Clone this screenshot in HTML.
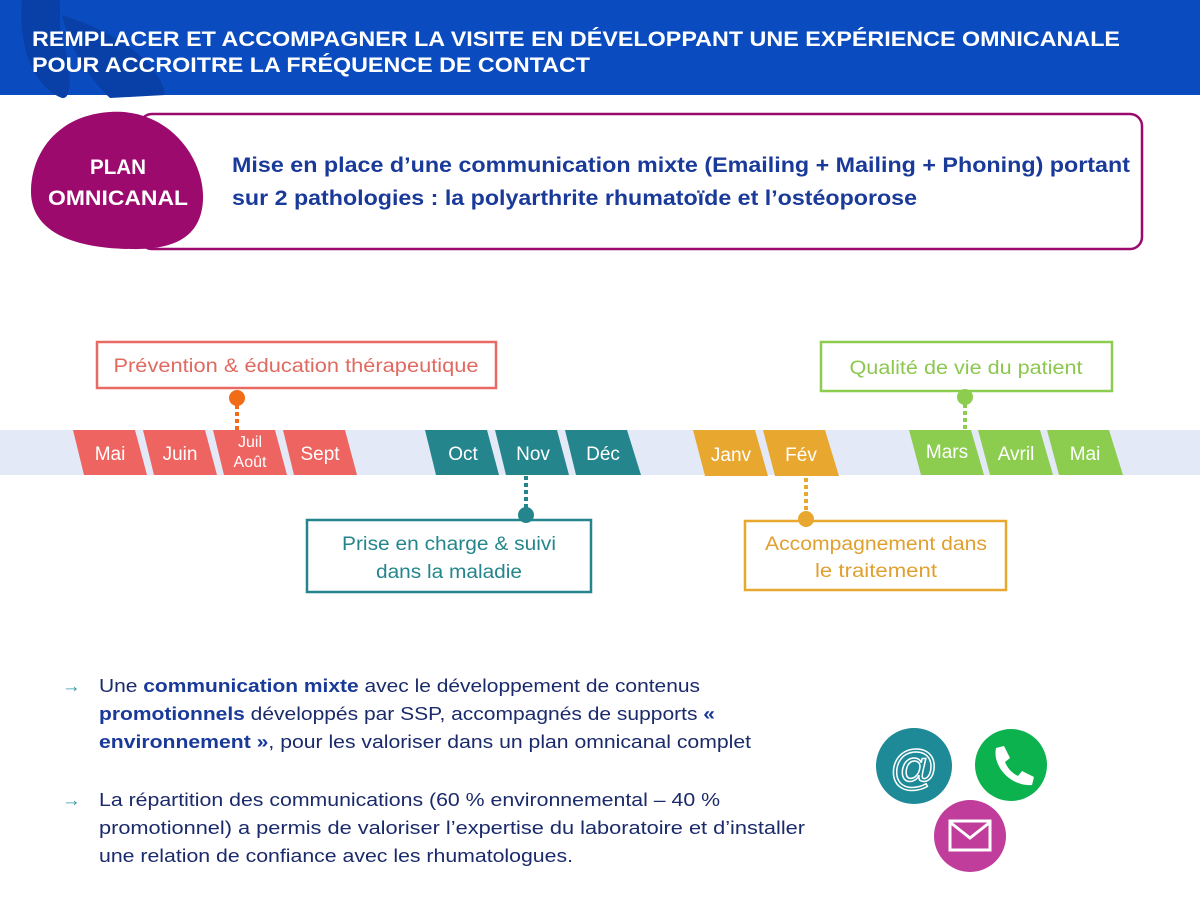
<!DOCTYPE html>
<html><head><meta charset="utf-8"><style>
body{margin:0;width:1200px;height:900px;overflow:hidden;background:#fff;font-family:"Liberation Sans",sans-serif}
svg{position:absolute;left:0;top:0}
.t{font-family:"Liberation Sans",sans-serif}
</style></head><body>
<svg width="1200" height="900" viewBox="0 0 1200 900">
<rect x="0" y="0" width="1200" height="95" fill="#0a4cc0"/>
<path d="M22,0 C18,40 30,85 62,98 C75,100 70,60 60,30 L60,0 Z" fill="#0940a8"/>
<path d="M62,15 C110,30 160,60 165,95 L110,98 C90,80 70,50 62,15 Z" fill="#0940a8"/>
<text x="32" y="46" fill="#fff" font-size="21" font-weight="bold" class="t" textLength="1088" lengthAdjust="spacingAndGlyphs">REMPLACER ET ACCOMPAGNER LA VISITE EN DÉVELOPPANT UNE EXPÉRIENCE OMNICANALE</text>
<text x="32" y="72" fill="#fff" font-size="21" font-weight="bold" class="t" textLength="558" lengthAdjust="spacingAndGlyphs">POUR ACCROITRE LA FRÉQUENCE DE CONTACT</text>

<rect x="140" y="114" width="1002" height="135" rx="12" fill="#fff" stroke="#9c0a6e" stroke-width="2.5"/>
<path d="M110,112 C170,108 205,160 203,200 C201,240 170,250 130,249 C70,248 30,230 31,190 C32,150 60,115 110,112 Z" fill="#9c0a6e"/>
<text x="118" y="174" fill="#fff" font-size="21" font-weight="bold" text-anchor="middle" class="t" textLength="56" lengthAdjust="spacingAndGlyphs">PLAN</text>
<text x="118" y="205" fill="#fff" font-size="21" font-weight="bold" text-anchor="middle" class="t" textLength="140" lengthAdjust="spacingAndGlyphs">OMNICANAL</text>
<text x="232" y="172" fill="#1a3a9a" font-size="21" font-weight="bold" class="t" textLength="898" lengthAdjust="spacingAndGlyphs">Mise en place d’une communication mixte (Emailing + Mailing + Phoning) portant</text>
<text x="232" y="205" fill="#1a3a9a" font-size="21" font-weight="bold" class="t" textLength="685" lengthAdjust="spacingAndGlyphs">sur 2 pathologies : la polyarthrite rhumatoïde et l’ostéoporose</text>

<rect x="0" y="430" width="1200" height="45" fill="#e4e9f8"/>
<g font-size="19" fill="#fff" text-anchor="middle" class="t">
<g fill="#ee6461">
<polygon points="73,430 135,430 147,475 84,475"/>
<polygon points="143,430 205,430 217,475 154,475"/>
<polygon points="213,430 275,430 287,475 224,475"/>
<polygon points="283,430 345,430 357,475 294,475"/>
</g>
<g fill="#24868c">
<polygon points="425,430 487,430 499,475 436,475"/>
<polygon points="495,430 557,430 569,475 506,475"/>
<polygon points="565,430 627,430 641,475 576,475"/>
</g>
<g fill="#e8a830">
<polygon points="693,430 755,430 768,476 705,476"/>
<polygon points="763,430 825,430 839,476 775,476"/>
</g>
<g fill="#8ccd4f">
<polygon points="909,430 971,430 984,475 921,475"/>
<polygon points="978,430 1040,430 1053,475 990,475"/>
<polygon points="1047,430 1109,430 1123,475 1059,475"/>
</g>
<text x="110" y="460">Mai</text>
<text x="180" y="460">Juin</text>
<text x="250" y="447" font-size="16">Juil</text>
<text x="250" y="467" font-size="16">Août</text>
<text x="320" y="460">Sept</text>
<text x="463" y="460">Oct</text>
<text x="533" y="460">Nov</text>
<text x="603" y="460">Déc</text>
<text x="731" y="461">Janv</text>
<text x="801" y="461">Fév</text>
<text x="947" y="458">Mars</text>
<text x="1016" y="460">Avril</text>
<text x="1085" y="460">Mai</text>
</g>

<g class="t" font-size="19" text-anchor="middle">
<rect x="97" y="342" width="399" height="46" fill="#fff" stroke="#e86a63" stroke-width="2.5"/>
<text x="296" y="372" fill="#e06a60" textLength="365" lengthAdjust="spacingAndGlyphs">Prévention &amp; éducation thérapeutique</text>
<line x1="237" y1="405" x2="237" y2="430" stroke="#f26b16" stroke-width="4" stroke-dasharray="4,3"/>
<circle cx="237" cy="398" r="8" fill="#f26b16"/>

<rect x="307" y="520" width="284" height="72" fill="#fff" stroke="#24868c" stroke-width="2.5"/>
<text x="449" y="550" fill="#24868c" textLength="214" lengthAdjust="spacingAndGlyphs">Prise en charge &amp; suivi</text>
<text x="449" y="578" fill="#24868c" textLength="146" lengthAdjust="spacingAndGlyphs">dans la maladie</text>
<line x1="526" y1="476" x2="526" y2="510" stroke="#24868c" stroke-width="4" stroke-dasharray="4,3"/>
<circle cx="526" cy="515" r="8" fill="#24868c"/>

<rect x="745" y="521" width="261" height="69" fill="#fff" stroke="#e8a830" stroke-width="2.5"/>
<text x="876" y="550" fill="#e0a030" textLength="222" lengthAdjust="spacingAndGlyphs">Accompagnement dans</text>
<text x="876" y="577" fill="#e0a030" textLength="122" lengthAdjust="spacingAndGlyphs">le traitement</text>
<line x1="806" y1="478" x2="806" y2="512" stroke="#e8a830" stroke-width="4" stroke-dasharray="4,3"/>
<circle cx="806" cy="519" r="8" fill="#e8a830"/>

<rect x="821" y="342" width="291" height="49" fill="#fff" stroke="#8ccd4f" stroke-width="2.5"/>
<text x="966" y="374" fill="#8cc84f" textLength="233" lengthAdjust="spacingAndGlyphs">Qualité de vie du patient</text>
<line x1="965" y1="404" x2="965" y2="430" stroke="#8ccd4f" stroke-width="4" stroke-dasharray="4,3"/>
<circle cx="965" cy="397" r="8" fill="#8ccd4f"/>
</g>

<g class="t" font-size="18.5" fill="#1a2a6a">
<text x="62" y="692" fill="#3a9aa8">→</text>
<text x="99" y="692" textLength="601" lengthAdjust="spacingAndGlyphs">Une <tspan font-weight="bold" fill="#1a3a9a">communication mixte</tspan> avec le développement de contenus</text>
<text x="99" y="720" textLength="616" lengthAdjust="spacingAndGlyphs"><tspan font-weight="bold" fill="#1a3a9a">promotionnels</tspan> développés par SSP, accompagnés de supports <tspan font-weight="bold" fill="#1a3a9a">«</tspan></text>
<text x="99" y="748" textLength="652" lengthAdjust="spacingAndGlyphs"><tspan font-weight="bold" fill="#1a3a9a">environnement »</tspan>, pour les valoriser dans un plan omnicanal complet</text>
<text x="62" y="806" fill="#3a9aa8">→</text>
<text x="99" y="806" textLength="621" lengthAdjust="spacingAndGlyphs">La répartition des communications (60 % environnemental – 40 %</text>
<text x="99" y="834" textLength="706" lengthAdjust="spacingAndGlyphs">promotionnel) a permis de valoriser l’expertise du laboratoire et d’installer</text>
<text x="99" y="862" textLength="474" lengthAdjust="spacingAndGlyphs">une relation de confiance avec les rhumatologues.</text>
</g>

<circle cx="914" cy="766" r="38" fill="#1e8a98"/>
<text x="914" y="784" font-size="48" fill="none" stroke="#fff" stroke-width="1.5" text-anchor="middle" class="t">@</text>
<circle cx="1011" cy="765" r="36" fill="#0cb24e"/>
<path d="M996,748 l8,-2 l6,12 l-5,4 c3,7 7,11 13,14 l4,-5 l12,6 l-2,8 c-20,2 -40,-18 -36,-37 z" fill="#fff"/>
<circle cx="970" cy="836" r="36" fill="#c03d9c"/>
<rect x="950" y="821" width="40" height="29" fill="none" stroke="#fff" stroke-width="3"/>
<polyline points="951,823 970,838 989,823" fill="none" stroke="#fff" stroke-width="3"/>
</svg>
</body></html>
